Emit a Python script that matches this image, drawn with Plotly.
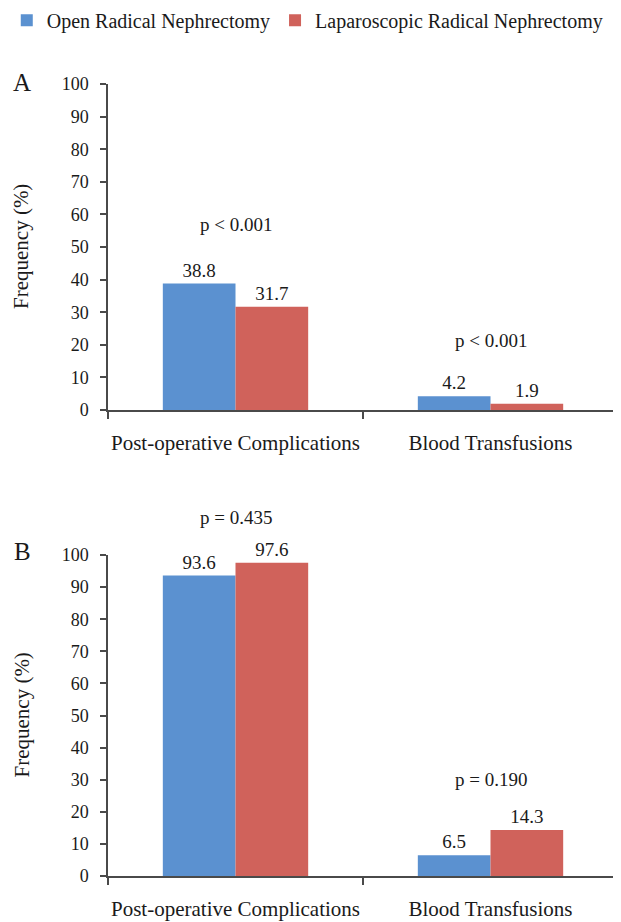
import plotly.graph_objects as go

categories = ["Post-operative Complications", "Blood Transfusions"]
series_names = ["Open Radical Nephrectomy", "Laparoscopic Radical Nephrectomy"]
open_A = [38.8, 4.2]
lap_A = [31.7, 1.9]
open_B = [93.6, 6.5]
lap_B = [97.6, 14.3]
p_text_A = ["p < 0.001", "p < 0.001"]
p_text_B = ["p = 0.435", "p = 0.190"]
y_ticks = [0, 10, 20, 30, 40, 50, 60, 70, 80, 90, 100]

# layout / style constants
BLUE = "#5B91D0"
RED = "#D0625B"
FONT = "Liberation Serif"
TXT = "#1a1a1a"
AX = "#4a4a4a"
Y_MAX = 100
# heights (in % units of the y scale) where the p-value notes sit
p_pos_A = [57.0, 21.2]
p_pos_B = [111.8, 30.2]

# page has an 8px body margin; figure is sized to fit the window
OFF = 8
W, H = 621 - OFF, 922 - OFF


def px(x):
    return (x - OFF) / W


def py(y):
    return 1 - (y - OFF) / H


x_dom = [px(108), px(618)]
yA_dom = [py(410), py(84)]
yB_dom = [py(876), py(555)]

fig = go.Figure()
panels = [("x", "y", open_A, lap_A, True), ("x2", "y2", open_B, lap_B, False)]
for xa, ya, ov, lv, show in panels:
    for name, vals, col in [(series_names[0], ov, BLUE), (series_names[1], lv, RED)]:
        fig.add_trace(go.Bar(
            x=categories, y=vals, name=name, xaxis=xa, yaxis=ya,
            marker=dict(color=col, line=dict(width=0)),
            text=[f"{v:.1f}" for v in vals], textposition="outside",
            textfont=dict(family=FONT, size=19, color=TXT),
            cliponaxis=False, showlegend=show,
        ))

axis_common = dict(
    showline=True, linecolor=AX, linewidth=1.5, showgrid=False, zeroline=False,
    ticks="outside", tickcolor=AX, tickwidth=1.5,
    tickfont=dict(family=FONT, size=18, color=TXT),
)
for k, anchor in [("xaxis", "y"), ("xaxis2", "y2")]:
    fig.layout[k] = dict(axis_common, domain=x_dom, anchor=anchor, type="category",
                         range=[-0.5, 1.5], tickson="boundaries", ticklen=7,
                         tickangle=0, automargin=False, ticklabelstandoff=13,
                         tickfont=dict(family=FONT, size=21, color=TXT))
for k, dom, anchor in [("yaxis", yA_dom, "x"), ("yaxis2", yB_dom, "x2")]:
    fig.layout[k] = dict(axis_common, domain=dom, anchor=anchor, range=[0, Y_MAX],
                         tickvals=y_ticks, ticklen=6, ticklabelstandoff=8,
                         automargin=False)

ann = []
for i, c in enumerate(categories):
    ann.append(dict(x=c, y=p_pos_A[i] / Y_MAX, xref="x", yref="y domain",
                    text=p_text_A[i], showarrow=False, yanchor="middle",
                    font=dict(family=FONT, size=19, color=TXT)))
    ann.append(dict(x=c, y=p_pos_B[i] / Y_MAX, xref="x2", yref="y2 domain",
                    text=p_text_B[i], showarrow=False, yanchor="middle",
                    font=dict(family=FONT, size=19, color=TXT)))
for letter, yp in [("A", py(82)), ("B", py(551))]:
    ann.append(dict(x=px(22), y=yp, xref="paper", yref="paper", text=letter,
                    xanchor="center", yanchor="middle",
                    showarrow=False, font=dict(family=FONT, size=25, color=TXT)))
for dom in [yA_dom, yB_dom]:
    ann.append(dict(x=px(21), y=(dom[0] + dom[1]) / 2, xref="paper", yref="paper",
                    text="Frequency (%)", textangle=-90, showarrow=False,
                    xanchor="center", yanchor="middle",
                    font=dict(family=FONT, size=21, color=TXT)))

fig.update_layout(
    width=W, height=H, margin=dict(l=0, r=0, t=0, b=0, autoexpand=False),
    paper_bgcolor="white", plot_bgcolor="white",
    barmode="group", bargap=0.43, bargroupgap=0,
    font=dict(family=FONT, color=TXT),
    legend=dict(orientation="h", x=-0.002, y=1.008, xanchor="left", yanchor="top",
                font=dict(family=FONT, size=20, color=TXT), traceorder="normal",
                itemclick=False),
    annotations=ann,
)
fig.write_html("out.html")
